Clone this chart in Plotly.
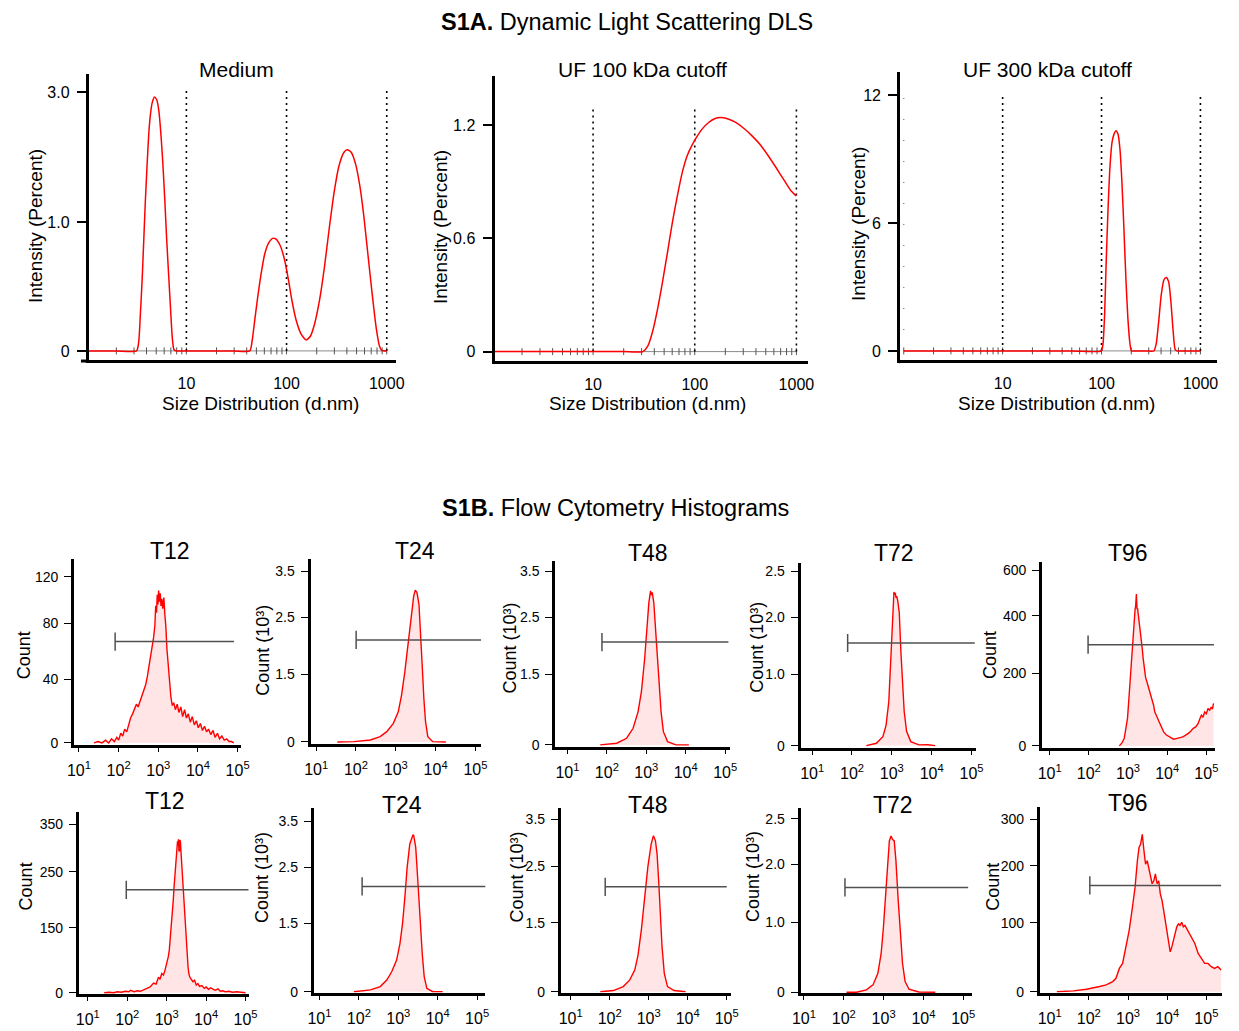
import plotly.graph_objects as go

FONT = "Liberation Sans, Arial, Helvetica, sans-serif"
W, H = 1239, 1031

# ------------------------------------------------------------------ DLS data
medium_size = [1.0, 2.0, 3.18, 3.35, 3.47, 3.61, 3.75, 3.89, 4.05, 4.20, 4.36, 4.56, 4.81, 5.07,
               5.31, 5.55, 5.81, 6.08, 6.35, 6.65, 6.97, 7.23, 7.50, 7.85, 10, 20, 30, 42.9, 45.3,
               48.0, 51.4, 55.5, 60.2, 65.9, 72.8, 78.5, 85.9, 94.7, 103.7, 113.5, 125.3, 140.3,
               157.3, 173.4, 189.8, 212.5, 238.2, 266.6, 298.6, 334.4, 374.4, 403.6, 441.9, 488,
               538, 589, 644.5, 711, 785, 846, 891, 998]
medium_int = [0, 0, 0, 0.115, 0.422, 0.806, 1.267, 1.728, 2.15, 2.496, 2.726, 2.88, 2.946, 2.91,
              2.784, 2.535, 2.189, 1.767, 1.306, 0.883, 0.461, 0.153, 0.018, 0, 0, 0, 0, 0, 0.115,
              0.346, 0.614, 0.883, 1.113, 1.248, 1.305, 1.297, 1.228, 1.075, 0.845, 0.576, 0.346,
              0.191, 0.127, 0.173, 0.306, 0.576, 0.96, 1.42, 1.843, 2.15, 2.304, 2.334, 2.304,
              2.169, 1.919, 1.574, 1.152, 0.691, 0.268, 0.058, 0.007, 0]

uf100_size = [1.0, 10, 20, 30.9, 34.6, 38.6, 43.3, 48.3, 54.1, 60.4, 67.6, 75.5, 84.3, 94.4, 105.4,
              118, 137, 159, 178, 206, 248, 299, 360, 435, 522, 628, 759, 879, 998]
uf100_int = [0, 0, 0, 0, 0.030, 0.109, 0.232, 0.372, 0.53, 0.688, 0.828, 0.951, 1.038, 1.095, 1.14,
             1.179, 1.214, 1.235, 1.24, 1.235, 1.217, 1.186, 1.147, 1.1, 1.042, 0.977, 0.907,
             0.854, 0.825]

uf300_size = [1.0, 10, 50, 99.3, 103.3, 107.4, 111.2, 116.4, 121.9, 127.6, 133.7, 140, 146.6, 153.5,
              160.7, 168.3, 176.2, 184.5, 193.2, 200.4, 213.3, 280, 338, 356.5, 378.6, 401.8,
              427.6, 450.8, 476.4, 502.3, 529.7, 554.6, 576.8, 700, 1000]
uf300_int = [0, 0, 0, 0, 0.31, 1.71, 4.04, 6.68, 8.70, 9.79, 10.18, 10.34, 10.18, 9.48, 7.93, 5.75,
             3.42, 1.55, 0.39, 0, 0, 0, 0, 0.31, 1.40, 2.64, 3.34, 3.45, 3.26, 2.33, 0.93, 0.07, 0,
             0, 0]

dls_titles = ["Medium", "UF 100 kDa cutoff", "UF 300 kDa cutoff"]
dls_guides = [10, 100, 1000]
dls_guide_top = [3.04, 1.284, 12.0]
dls_xtick_vals = [10, 100, 1000]
dls_xtick_text = ["10", "100", "1000"]
dls_ytick_text = [["0", "1.0", "3.0"], ["0", "0.6", "1.2"], ["0", "6", "12"]]
dls_ytick_vals = [[0, 1.49, 3.0], [0, 0.6, 1.2], [0, 6, 12]]

# ------------------------------------------------------------------ Flow data
t12a_x = [24, 30, 38, 47, 56, 66, 78, 90, 100, 113, 127, 142, 160, 180, 200, 225, 250, 280, 310, 345,
          385, 430, 480, 530, 580, 640, 700, 760, 820, 860, 900, 940, 980, 1020, 1070, 1120, 1170,
          1230, 1300, 1380, 1460, 1550, 1650, 1780, 1920, 2080, 2250, 2450, 2700, 3000, 3300, 3700,
          4100, 4600, 5100, 5700, 6400, 7200, 8100, 9100, 10200, 11500, 13000, 14600, 16500, 18500,
          21000, 24000, 27000, 31000, 35000, 40000, 46000, 53000, 61000, 70000, 80000]
t12a_y = [0, 1, 0, 2, 0, 3, 1, 4, 2, 7, 5, 10, 8, 14, 18, 21, 25, 28, 26, 30,
          33, 37, 42, 48, 55, 61, 69, 76, 85, 99, 94, 107, 100, 110, 102, 108, 99,
          104, 97, 105, 93, 84, 68, 54, 42, 33, 27, 29, 24, 28, 22, 26,
          19, 24, 18, 21, 15, 19, 13, 16, 11, 14, 9, 12, 8, 10,
          6, 9, 4, 7, 3, 5, 2, 3, 1, 1, 0]

t24a_x = [34, 89, 229, 405, 592, 867, 1153, 1393, 1683, 2037, 2460, 2818, 3090, 3404, 3819, 4207,
          4603, 5070, 5585, 6368, 8472, 18100]
t24a_y = [0, 0.006, 0.04, 0.108, 0.21, 0.38, 0.617, 0.956, 1.43, 2.04, 2.65, 2.99, 3.11, 3.06, 2.82,
          2.25, 1.57, 0.89, 0.414, 0.108, 0.006, 0]

t48a_x = [67.6, 178, 316, 462, 617, 750, 908, 1035, 1161, 1230, 1282, 1330, 1413, 1549, 1778, 2065,
          2371, 2710, 3467, 5623, 12020]
t48a_y = [0, 0.034, 0.134, 0.334, 0.666, 1.066, 1.734, 2.4, 2.866, 3.0, 3.1, 3.02, 3.07, 2.866, 2.2,
          1.4, 0.666, 0.266, 0.066, 0, 0]

t72a_x = [229, 407, 596, 718, 838, 918, 1012, 1089, 1130, 1180, 1220, 1271, 1320, 1400, 1535, 1690,
          1862, 2042, 2344, 2985, 4786, 8000, 12300]
t72a_y = [0, 0.033, 0.128, 0.294, 0.626, 1.1, 1.717, 2.097, 2.2, 2.16, 2.19, 2.12, 2.14, 2.08, 1.91,
          1.34, 0.868, 0.489, 0.204, 0.057, 0.01, 0.012, 0]

t96a_x = [601, 700, 802, 880, 971, 1040, 1109, 1180, 1245, 1310, 1374, 1440, 1517, 1570, 1637, 1702,
          1760, 1803, 1860, 1910, 2000, 2099, 2200, 2317, 2430, 2559, 2680, 2805, 3100, 3412, 3750,
          4130, 4480, 4831, 5200, 5521, 6100, 6683, 7400, 8128, 9400, 10860, 12500, 14520, 16800,
          19360, 22500, 25880, 30000, 34590, 40000, 46240, 53500, 61660, 68000, 74820, 82000, 90570,
          100000, 110200, 121000, 133400, 143000, 152400]
t96a_y = [0, 10, 26, 55, 94, 150, 207, 265, 320, 370, 411, 440, 467, 479, 519, 467,
          470, 456, 440, 433, 420, 399, 365, 331, 300, 275, 255, 235, 215, 196, 180,
          162, 140, 116, 108, 99, 85, 71, 58, 48, 38, 32, 27, 23, 25,
          26, 29, 32, 37, 43, 50, 60, 65, 77, 92, 105, 98, 116,
          110, 128, 122, 133, 126, 145]

t12b_x = [26, 35, 45, 56, 70, 90, 110, 121, 150, 180, 215, 260, 316, 380, 465, 540, 619, 680, 750, 830,
          908, 970, 1040, 1100, 1167, 1250, 1334, 1400, 1469, 1540, 1614, 1700, 1778, 1830, 1884,
          1940, 1995, 2050, 2113, 2170, 2239, 2320, 2415, 2510, 2612, 2740, 2871, 3010, 3162, 3320,
          3483, 3650, 3828, 4200, 4645, 5100, 5623, 6200, 6808, 7800, 9000, 10000, 11500, 13000,
          14690, 17000, 20000, 23000, 26120, 31000, 38000, 46450, 60000, 80000, 100000]
t12b_y = [0, 1, 0, 2, 1, 3, 2, 5, 2, 4, 3, 6, 9, 12, 20, 18, 32, 28, 40, 37,
          47, 55, 68, 75, 89, 115, 144, 165, 192, 220, 247, 265, 281, 300, 315,
          305, 319, 295, 294, 318, 312, 290, 267, 240, 212, 185, 157, 125, 95, 72,
          54, 40, 33, 28, 23, 26, 16, 19, 13, 15, 9, 12, 7, 10,
          7, 5, 8, 3, 4, 2, 3, 1, 2, 0, 0]

t24b_x = [75, 196, 349, 511, 681, 908, 1104, 1282, 1472, 1679, 1963, 2280, 2370, 2472, 2773, 3162,
          3614, 4055, 4550, 5309, 7499, 13340]
t24b_y = [0, 0.037, 0.106, 0.24, 0.41, 0.65, 0.988, 1.395, 1.94, 2.55, 3.03, 3.2, 3.22, 3.2, 2.96,
          2.23, 1.395, 0.784, 0.31, 0.07, 0, 0]

t48b_x = [57.3, 124, 222, 327, 438, 531, 646, 783, 948, 1156, 1321, 1486, 1637, 1799, 1986, 2193,
          2506, 3034, 4487, 8851]
t48b_y = [0, 0.024, 0.105, 0.24, 0.44, 0.74, 1.25, 1.86, 2.53, 3.0, 3.17, 3.07, 2.8, 2.26, 1.59,
          0.92, 0.373, 0.105, 0.024, 0]

t72b_x = [117, 209, 369, 541, 718, 867, 991, 1109, 1274, 1393, 1535, 1690, 1849, 2037, 2328, 2606,
          2985, 3467, 4355, 7691, 19950]
t72b_y = [0, 0, 0.033, 0.105, 0.272, 0.558, 0.94, 1.37, 1.85, 2.18, 2.25, 2.2, 2.18, 1.9, 1.32,
          0.844, 0.415, 0.153, 0.043, 0.004, 0]

t96b_x = [15.3, 40.2, 86.7, 128, 188, 277, 407, 493, 601, 728, 881, 1072, 1297, 1517, 1734, 1914,
          2099, 2317, 2559, 2805, 3097, 3412, 3750, 4130, 4560, 5000, 5521, 6095, 6683, 7379, 8147,
          8933, 9863, 10860, 11940, 13150, 14520, 15920, 17580, 19360, 21280, 23500, 25880, 28440,
          31410, 34670, 38020, 41980, 46240, 50820, 61800, 74820, 90570, 110400, 133700, 161800,
          196800, 238200]
t96b_y = [0, 1.4, 4.3, 6, 9, 11.8, 17.6, 23.3, 40.6, 49.3, 78, 107, 147, 182, 228, 251, 257, 274,
          245, 222, 228, 216, 205, 188, 193, 205, 188, 193, 170, 159, 141, 124, 107, 84, 69.5, 78,
          89.6, 101, 113, 118, 115.5, 121, 113, 115.5, 110, 107, 101, 95.5, 89.6, 84, 66.6, 58,
          49.3, 49.3, 43.6, 40.6, 43.6, 37.7]

flow_x = [t12a_x, t24a_x, t48a_x, t72a_x, t96a_x, t12b_x, t24b_x, t48b_x, t72b_x, t96b_x]
flow_y = [t12a_y, t24a_y, t48a_y, t72a_y, t96a_y, t12b_y, t24b_y, t48b_y, t72b_y, t96b_y]
flow_titles = ["T12", "T24", "T48", "T72", "T96", "T12", "T24", "T48", "T72", "T96"]
flow_ytitles = ["Count", "Count (10³)", "Count (10³)", "Count (10³)", "Count",
                "Count", "Count (10³)", "Count (10³)", "Count (10³)", "Count"]
flow_ytick_text = [["0", "40", "80", "120"], ["0", "1.5", "2.5", "3.5"], ["0", "1.5", "2.5", "3.5"],
                   ["0", "1.0", "2.0", "2.5"], ["0", "200", "400", "600"], ["0", "150", "250", "350"],
                   ["0", "1.5", "2.5", "3.5"], ["0", "1.5", "2.5", "3.5"], ["0", "1.0", "2.0", "2.5"],
                   ["0", "100", "200", "300"]]
flow_ytick_vals = [[0, 45.9, 86.3, 120], [0, 1.38, 2.55, 3.5], [0, 1.42, 2.57, 3.5],
                   [0, 1.02, 1.84, 2.5], [0, 249, 445, 600], [0, 135, 251, 350],
                   [0, 1.40, 2.55, 3.5], [0, 1.40, 2.55, 3.5], [0, 1.01, 1.84, 2.5],
                   [0, 120, 219, 300]]
flow_xtick_vals = [10, 100, 1000, 10000, 100000]
flow_xtick_text = ["10<sup>1</sup>", "10<sup>2</sup>", "10<sup>3</sup>", "10<sup>4</sup>", "10<sup>5</sup>"]
gate_start = [81.6, 101, 75, 77.8, 95.7, 94.4, 121, 76.6, 107, 106]
gate_end = [80900, 138000, 121000, 121000, 156000, 120000, 178000, 100000, 133000, 238000]
gate_level = [73.2, 2.09, 2.07, 1.47, 346, 214, 2.16, 2.13, 1.51, 185]

# ------------------------------------------------------------------ layout geometry (pixels)
# box = (left, right, top, bottom); xcal = (log_a, px_a, log_b, px_b); ycal = (v0, py0, v1, py1)
dls_box = [(81, 393, 75, 362), (492.7, 810.7, 76.7, 363.3), (904.3, 1226, 72.7, 362.7)]
dls_overhang = [8, 2, 1]
dls_xcal = [(1, 180, 3, 383.3), (1, 592.7, 3, 799), (1, 1008.3, 3, 1209)]
dls_ycal = [(0, 353.3, 3.0, 92.9), (0, 354, 1.2, 126), (0, 353.3, 12, 96)]
dls_title_pos = [(231, 70), (643, 70), (1054, 70)]
dls_xtitle_pos = [(255, 406), (648, 406), (1063, 406)]
dls_ytitle_pos = [(27, 228), (438, 229), (862, 225)]

flow_box = [(66, 235, 563, 750), (306, 479, 563.3, 749.3), (554.3, 731.7, 565, 751.7),
            (803.3, 981.7, 566.7, 752.7), (1048.3, 1223.3, 566, 752.7),
            (71, 243.3, 817.3, 1000.7), (309.3, 483.3, 814, 999.3), (560, 732.7, 813.3, 999.3),
            (803.3, 976.7, 813.3, 1000), (1046, 1230.7, 812.7, 999.3)]
flow_xcal = [(1, 71, 5, 232), (1, 311.7, 5, 473.3), (1, 566.7, 5, 726.7), (1, 815, 5, 976.7),
             (1, 1056, 5, 1215), (1, 80, 5, 240), (1, 315, 5, 475), (1, 570, 5, 728.3),
             (1, 806.7, 5, 968.3), (1, 1056, 5, 1215)]
flow_ycal = [(0, 748, 120, 580.7), (0, 747, 3.5, 575), (0, 750, 3.5, 575), (0, 750.7, 2.5, 575),
             (0, 751, 600, 574.3), (0, 999.5, 350, 830), (0, 998.5, 3.5, 826.7),
             (0, 998.5, 3.5, 825), (0, 999, 2.5, 824.3), (0, 998.5, 300, 825)]
flow_title_pos = [(163, 555), (411.7, 555), (648.3, 556.7), (898.3, 556.7), (1135, 556.7),
                  (158.3, 806.7), (398.3, 810), (648.3, 810), (896.7, 810), (1135, 808.3)]
flow_ytitle_pos = [(15, 660), (257, 655), (508.3, 652), (758.3, 652), (995, 660),
                   (16.7, 892), (256.7, 883), (515, 883), (755, 883), (998.3, 893)]

RED = "#ff0000"
GATE = "#505050"


def ranges(box, xcal, ycal):
    left, right, top, bottom = box
    la, pa, lb, pb = xcal
    k = (lb - la) / (pb - pa)
    v0, p0, v1, p1 = ycal
    m = (v1 - v0) / (p1 - p0)
    return ([la + (left - pa) * k, la + (right - pa) * k],
            [v0 + (bottom - p0) * m, v0 + (top - p0) * m])


def names(i):
    if i == 1:
        return "xaxis", "yaxis", "x", "y"
    return f"xaxis{i}", f"yaxis{i}", f"x{i}", f"y{i}"


fig = go.Figure()
layout = {}
annotations = []
shapes = []


def ann(text, pos, size, angle=0):
    annotations.append(dict(text=text, x=pos[0] / W, y=1 - pos[1] / H, xref="paper", yref="paper",
                            xanchor="center", yanchor="middle", showarrow=False, textangle=angle,
                            font=dict(size=size, color="black", family=FONT)))


minor_pos = [m * 10 ** e for e in range(3) for m in range(1, 10)] + [1000]

# --------------------------------------------------------------- DLS panels
dls_series = [(medium_size, medium_int), (uf100_size, uf100_int), (uf300_size, uf300_int)]
for j in range(3):
    i = j + 1
    xa, ya, xr, yr = names(i)
    box = dls_box[j]
    rx, ry = ranges(box, dls_xcal[j], dls_ycal[j])
    layout[xa] = dict(domain=[box[0] / W, box[1] / W], anchor=yr, type="log", range=rx,
                      showline=True, linecolor="black", linewidth=3, ticks="", showgrid=False,
                      zeroline=False, tickvals=dls_xtick_vals, ticktext=dls_xtick_text,
                      ticklabelstandoff=7, tickfont=dict(size=16, color="black", family=FONT))
    layout[ya] = dict(domain=[1 - box[3] / H, 1 - box[2] / H], anchor=xr, range=ry,
                      showline=True, linecolor="black", linewidth=3, ticks="outside", ticklen=9,
                      tickwidth=1.5, tickcolor="black", showgrid=False, zeroline=False,
                      tickvals=dls_ytick_vals[j], ticktext=dls_ytick_text[j], ticklabelstandoff=4,
                      tickfont=dict(size=16, color="black", family=FONT))
    shapes.append(dict(type="line", xref="paper", yref="paper",
                       x0=(box[0] - dls_overhang[j]) / W, x1=box[0] / W,
                       y0=1 - (box[3] + 1.5) / H, y1=1 - (box[3] + 1.5) / H,
                       line=dict(color="black", width=3)))
    fig.add_trace(go.Scatter(x=minor_pos, y=[0] * len(minor_pos), xaxis=xr, yaxis=yr, mode="lines+markers",
                             line=dict(color="#8a8a8a", width=1),
                             marker=dict(symbol="line-ns-open", size=5, color="#555",
                                         line=dict(width=1, color="#555")),
                             showlegend=False, hoverinfo="skip"))
    fig.add_trace(go.Scatter(x=[1, 1], y=[0, dls_guide_top[j]], xaxis=xr, yaxis=yr, mode="lines",
                             line=dict(color="#777", width=1.2, dash="1px,20px"),
                             showlegend=False, hoverinfo="skip"))
    for g in dls_guides:
        fig.add_trace(go.Scatter(x=[g, g], y=[0, dls_guide_top[j]], xaxis=xr, yaxis=yr, mode="lines",
                                 line=dict(color="black", width=1.6, dash="2px,4px"),
                                 showlegend=False, hoverinfo="skip"))
    sx, sy = dls_series[j]
    fig.add_trace(go.Scatter(x=sx, y=sy, xaxis=xr, yaxis=yr, mode="lines",
                             line=dict(color=RED, width=1.5, shape="spline", smoothing=0.6),
                             showlegend=False))
    ann(dls_titles[j], dls_title_pos[j], 21)
    ann("Size Distribution (d.nm)", dls_xtitle_pos[j], 19)
    ann("Intensity (Percent)", dls_ytitle_pos[j], 19, -90)

# --------------------------------------------------------------- Flow panels
for j in range(10):
    i = j + 4
    xa, ya, xr, yr = names(i)
    box = flow_box[j]
    rx, ry = ranges(box, flow_xcal[j], flow_ycal[j])
    layout[xa] = dict(domain=[box[0] / W, box[1] / W], anchor=yr, type="log", range=rx,
                      showline=True, linecolor="black", linewidth=3, ticks="outside", ticklen=4,
                      tickwidth=1, tickcolor="black", showgrid=False, zeroline=False,
                      tickvals=flow_xtick_vals, ticktext=flow_xtick_text, ticklabelstandoff=5,
                      tickfont=dict(size=16, color="black", family=FONT))
    layout[ya] = dict(domain=[1 - box[3] / H, 1 - box[2] / H], anchor=xr, range=ry,
                      showline=True, linecolor="black", linewidth=3, ticks="outside", ticklen=7,
                      tickwidth=1.2, tickcolor="black", showgrid=False, zeroline=False,
                      tickvals=flow_ytick_vals[j], ticktext=flow_ytick_text[j], ticklabelstandoff=3,
                      tickfont=dict(size=14, color="black", family=FONT))
    fig.add_trace(go.Scatter(x=flow_x[j], y=flow_y[j], xaxis=xr, yaxis=yr, mode="lines",
                             fill="tozeroy", fillcolor="rgba(255,0,0,0.10)",
                             line=dict(color=RED, width=1.4), showlegend=False))
    fig.add_trace(go.Scatter(x=[gate_start[j], gate_end[j]], y=[gate_level[j]] * 2, xaxis=xr, yaxis=yr,
                             mode="lines", line=dict(color=GATE, width=1.5),
                             showlegend=False, hoverinfo="skip"))
    fig.add_trace(go.Scatter(x=[gate_start[j]], y=[gate_level[j]], xaxis=xr, yaxis=yr, mode="markers",
                             marker=dict(symbol="line-ns", size=13, color=GATE,
                                         line=dict(width=1.5, color=GATE)),
                             showlegend=False, hoverinfo="skip"))
    ann(flow_titles[j], flow_title_pos[j], 23)
    ann(flow_ytitles[j], flow_ytitle_pos[j], 18, -90)

ann("<b>S1A.</b> Dynamic Light Scattering DLS", (627.5, 22), 23.5)
ann("<b>S1B.</b> Flow Cytometry Histograms", (615.5, 511), 23.5)

fig.update_layout(width=W, height=H, margin=dict(l=0, r=0, t=0, b=0),
                  paper_bgcolor="white", plot_bgcolor="white", showlegend=False,
                  font=dict(family=FONT, color="black"), annotations=annotations, shapes=shapes,
                  **layout)

fig.write_html("out.html", config={"displayModeBar": False},
               post_script="document.body.style.margin='0';document.body.style.overflow='hidden';")
